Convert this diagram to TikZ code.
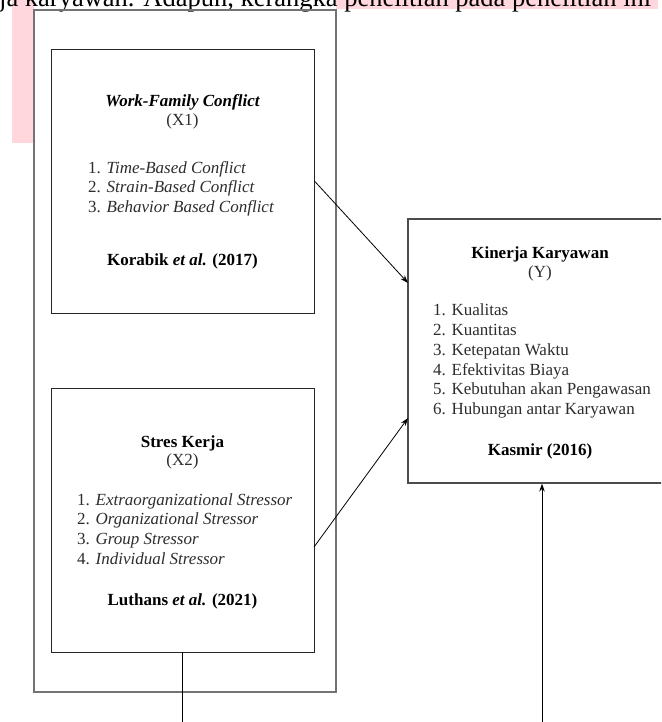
\documentclass[tikz,border=0pt]{standalone}
\usepackage{fontspec}
\setmainfont{Liberation Serif}
\usetikzlibrary{arrows.meta,positioning}

\definecolor{pinkband}{RGB}{255,215,221}
\definecolor{listgray}{RGB}{45,45,45}

\tikzset{
  varbox/.style={draw=black!85, line width=0.9pt, inner sep=0pt},
  grpbox/.style={draw=black!55, line width=1.3pt, inner sep=0pt},
  vartitle/.style={font=\fontsize{17}{19.7}\selectfont\bfseries, anchor=base, inner sep=0pt},
  varsym/.style={font=\fontsize{17}{19.7}\selectfont, text=listgray, anchor=base, inner sep=0pt},
  varlist/.style={font=\fontsize{17}{19.7}\selectfont, align=left, text=listgray, anchor=north west, inner sep=0pt},
  link/.style={line width=0.8pt},
  tip/.style={-{Stealth[length=8pt,width=5.5pt]}}
}

\begin{document}
\begin{tikzpicture}[x=1pt,y=-1pt]

\clip (0,0) rectangle (661,722);
\fill[white] (0,0) rectangle (661,722);

\fill[pinkband] (12,0) rectangle (34,143);
\fill[pinkband] (336,0) rectangle (658,9);
\node[font=\fontsize{26.5}{26.5}\selectfont, anchor=base west, inner sep=0pt] (pagetext) at (-1,7) {ja karyawan. Adapun, kerangka penelitian pada penelitian ini};

\node[grpbox, minimum width=302, minimum height=682] (grp) at (185,351) {};

\node[varbox, minimum width=263, minimum height=264] (x1) at (182.5,181) {};
\node[vartitle] (x1name) at (182.5,107) {\itshape Work-Family Conflict};
\node[varsym] (x1sym) at (182.5,126) {(X1)};
\node[varlist] (x1list) at (88,161) {1. \textit{Time-Based Conflict}\\2. \textit{Strain-Based Conflict}\\3. \textit{Behavior Based Conflict}};
\node[vartitle] (x1ref) at (182.5,265) {Korabik {\itshape et al.} (2017)};

\node[varbox, minimum width=263, minimum height=264] (x2) at (182.5,520) {};
\node[vartitle] (x2name) at (182.5,447) {Stres Kerja};
\node[varsym] (x2sym) at (182.5,465) {(X2)};
\node[varlist] (x2list) at (77,493) {1. \textit{Extraorganizational Stressor}\\2. \textit{Organizational Stressor}\\3. \textit{Group Stressor}\\4. \textit{Individual Stressor}};
\node[vartitle] (x2ref) at (182.5,605) {Luthans {\itshape et al.} (2021)};

\node[varbox, draw=black!70, line width=1.2pt, minimum width=264, minimum height=264] (y) at (540,351) {};
\node[vartitle] (yname) at (540,258) {Kinerja Karyawan};
\node[varsym] (ysym) at (540,277) {(Y)};
\node[varlist] (ylist) at (433,304) {1. Kualitas\\2. Kuantitas\\3. Ketepatan Waktu\\4. Efektivitas Biaya\\5. Kebutuhan akan Pengawasan\\6. Hubungan antar Karyawan};
\node[vartitle] (yref) at (540,455) {Kasmir (2016)};

\coordinate (yin1) at (408,283);
\coordinate (yin2) at (408,418);
\coordinate (x2out) at (314,547);
\coordinate (x2down) at (182.5,730);
\coordinate (yup) at (542,730);

\draw[link,tip] (x1.east) -- (yin1);
\draw[link,tip] (x2out) -- (yin2);
\draw[link] (x2.south) -- (x2down);
\draw[link,tip] (yup) -- (y.south -| yup);

\end{tikzpicture}
\end{document}
